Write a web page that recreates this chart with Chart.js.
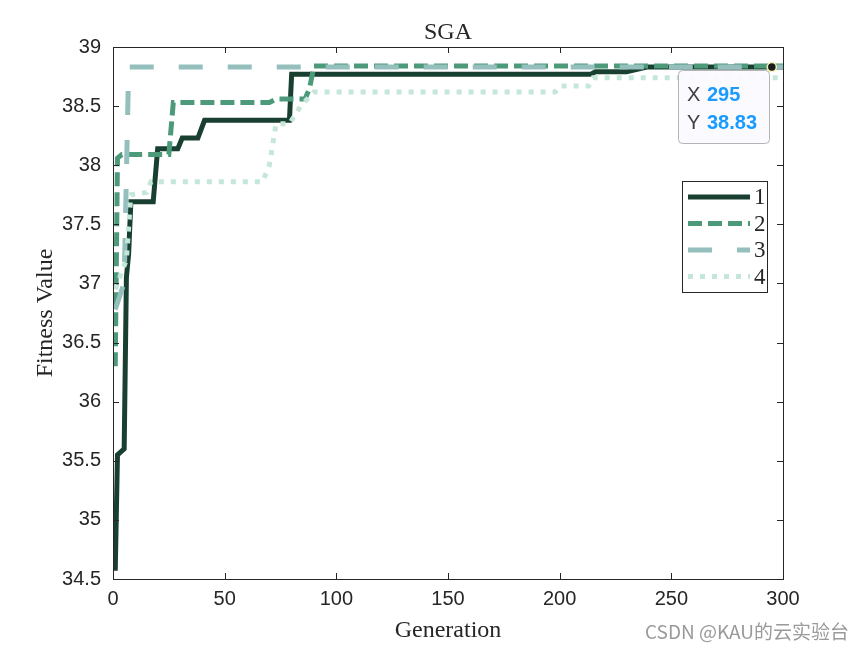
<!DOCTYPE html>
<html>
<head>
<meta charset="utf-8">
<script src="https://cdn.jsdelivr.net/npm/chart.js@4.4.0/dist/chart.umd.min.js"></script>
<style>
  html, body { margin: 0; padding: 0; background: #ffffff; }
  #wrap { position: relative; width: 865px; height: 650px; }
</style>
</head>
<body>
<div id="wrap"><canvas id="sgaChart" width="865" height="650"></canvas></div>
<script>
// values (change points of each curve)
const Gen_1 = [1, 2, 5, 6, 7, 8, 18, 20, 29, 31, 38, 41, 79, 80, 214, 216, 230, 239, 300];
const Fit_1 = [34.57, 35.55, 35.6, 37.05, 37.25, 37.69, 37.69, 38.14, 38.14, 38.23, 38.23, 38.38, 38.38, 38.77, 38.77, 38.79, 38.79, 38.83, 38.83];

const Gen_2 = [1, 2, 4, 25, 27, 70, 73, 86, 88, 90, 300];
const Fit_2 = [36.3, 38.06, 38.09, 38.09, 38.53, 38.53, 38.56, 38.56, 38.65, 38.84, 38.84];

const Gen_3 = [1, 4, 5, 7, 300];
const Fit_3 = [36.78, 36.95, 37.0, 38.83, 38.83];

const Gen_4 = [1, 4, 6, 8, 15, 17, 67, 70, 73, 79, 84, 90, 198, 200, 213, 215, 300];
const Fit_4 = [36.95, 37.1, 37.2, 37.75, 37.77, 37.86, 37.86, 38.0, 38.35, 38.35, 38.5, 38.62, 38.62, 38.67, 38.67, 38.74, 38.74];

const Series_Labels = ['1', '2', '3', '4'];
const X_Ticks = [0, 50, 100, 150, 200, 250, 300];
const Y_Ticks = [34.5, 35, 35.5, 36, 36.5, 37, 37.5, 38, 38.5, 39];

const Tip_Gen = 295;
const Tip_Fit = 38.83;

const Colors = ['#183f30', '#4c9a7a', '#94bfbc', '#c4e7d9'];
const Dashes = [[], [14, 6], [24, 25], [5, 7]];

function To_Points(Gens, Fits) {
    return Gens.map((G, i) => ({ x: G, y: Fits[i] }));
}

const Series = [[Gen_1, Fit_1], [Gen_2, Fit_2], [Gen_3, Fit_3], [Gen_4, Fit_4]];

const Datasets = Series.map(([G, F], i) => ({
    label: Series_Labels[i],
    data: To_Points(G, F),
    borderColor: Colors[i],
    backgroundColor: Colors[i],
    borderWidth: 5,
    borderDash: Dashes[i],
    borderCapStyle: 'butt',
    borderJoinStyle: 'miter',
    pointRadius: 0,
    tension: 0,
    fill: false,
    order: 3 - i
}));

const Text_Color = '#262626';
const Serif = '"Liberation Serif", "DejaVu Serif", serif';
const Sans = '"Liberation Sans", Arial, sans-serif';

const Frame_Plugin = {
    id: 'framePlugin',
    afterDraw(Chart_Obj) {
        const Ctx = Chart_Obj.ctx;
        const A = Chart_Obj.chartArea;
        const X_Scale = Chart_Obj.scales.x;
        const Y_Scale = Chart_Obj.scales.y;
        Ctx.save();

        // box and inward ticks
        Ctx.strokeStyle = Text_Color;
        Ctx.lineWidth = 1;
        Ctx.strokeRect(Math.round(A.left) + 0.5, Math.round(A.top) + 0.5, Math.round(A.right - A.left), Math.round(A.bottom - A.top));
        Ctx.beginPath();
        X_Ticks.forEach(T => {
            const Px = Math.round(X_Scale.getPixelForValue(T)) + 0.5;
            Ctx.moveTo(Px, A.bottom); Ctx.lineTo(Px, A.bottom - 6);
            Ctx.moveTo(Px, A.top); Ctx.lineTo(Px, A.top + 6);
        });
        Y_Ticks.forEach(T => {
            const Py = Math.round(Y_Scale.getPixelForValue(T)) + 0.5;
            Ctx.moveTo(A.left, Py); Ctx.lineTo(A.left + 6, Py);
            Ctx.moveTo(A.right, Py); Ctx.lineTo(A.right - 6, Py);
        });
        Ctx.stroke();

        // titles
        Ctx.fillStyle = Text_Color;
        Ctx.font = '24px ' + Serif;
        Ctx.textAlign = 'center';
        Ctx.textBaseline = 'alphabetic';
        Ctx.fillText('SGA', (A.left + A.right) / 2, 39);
        Ctx.fillText('Generation', (A.left + A.right) / 2, 637);
        Ctx.save();
        Ctx.translate(52, (A.top + A.bottom) / 2);
        Ctx.rotate(-Math.PI / 2);
        Ctx.fillText('Fitness Value', 0, 0);
        Ctx.restore();

        // legend box
        const Lx = 682, Ly = 181, Lw = 85, Lh = 111;
        Ctx.fillStyle = '#ffffff';
        Ctx.fillRect(Lx, Ly, Lw, Lh);
        Ctx.strokeStyle = Text_Color;
        Ctx.strokeRect(Lx + 0.5, Ly + 0.5, Lw, Lh);
        Chart_Obj.data.datasets.forEach((Ds, i) => {
            const Row_Y = Ly + 16 + i * 26.5;
            Ctx.save();
            Ctx.strokeStyle = Ds.borderColor;
            Ctx.lineWidth = 5;
            Ctx.lineCap = 'butt';
            Ctx.setLineDash(Ds.borderDash);
            Ctx.beginPath();
            Ctx.moveTo(688, Row_Y);
            Ctx.lineTo(750, Row_Y);
            Ctx.stroke();
            Ctx.restore();
            Ctx.fillStyle = Text_Color;
            Ctx.font = '23px ' + Serif;
            Ctx.textAlign = 'left';
            Ctx.textBaseline = 'middle';
            Ctx.fillText(Ds.label, 754, Row_Y + 1);
        });

        // data tip
        const Mx = X_Scale.getPixelForValue(Tip_Gen);
        const My = Y_Scale.getPixelForValue(Tip_Fit);
        const Bx = 678, By = 70, Bw = 91, Bh = 73;
        Ctx.beginPath();
        Ctx.roundRect(Bx + 0.5, By + 0.5, Bw, Bh, 4);
        Ctx.fillStyle = 'rgba(250, 250, 255, 0.96)';
        Ctx.fill();
        Ctx.strokeStyle = '#b4b4b4';
        Ctx.lineWidth = 1;
        Ctx.stroke();
        Ctx.textAlign = 'left';
        Ctx.textBaseline = 'middle';
        Ctx.font = '20px ' + Sans;
        Ctx.fillStyle = '#404040';
        Ctx.fillText('X', 687, 95);
        Ctx.fillText('Y', 687, 123);
        Ctx.font = 'bold 20px ' + Sans;
        Ctx.fillStyle = '#1a9bff';
        Ctx.fillText(String(Tip_Gen), 707, 95);
        Ctx.fillText(Tip_Fit.toFixed(2), 707, 123);

        Ctx.beginPath();
        Ctx.arc(Mx, My, 4.5, 0, Math.PI * 2);
        Ctx.fillStyle = '#1a1a1a';
        Ctx.fill();
        Ctx.strokeStyle = '#f6f0b0';
        Ctx.lineWidth = 1.5;
        Ctx.stroke();

        // watermark
        Ctx.font = '19px "Noto Sans CJK SC", ' + Sans;
        Ctx.fillStyle = '#9a9a9a';
        Ctx.textAlign = 'left';
        Ctx.textBaseline = 'alphabetic';
        Ctx.fillText('CSDN @KAU的云实验台', 645, 639);
        Ctx.restore();
    }
};

const Ctx = document.getElementById('sgaChart').getContext('2d');
new Chart(Ctx, {
    type: 'line',
    data: { datasets: Datasets },
    options: {
        responsive: false,
        animation: false,
        layout: { padding: { left: 0, right: 82, top: 47, bottom: 0 } },
        plugins: { legend: { display: false }, tooltip: { enabled: false }, title: { display: false } },
        scales: {
            x: {
                type: 'linear',
                min: 0,
                max: 300,
                afterBuildTicks: S => { S.ticks = X_Ticks.map(V => ({ value: V })); },
                afterFit: S => { S.height = 71; },
                grid: { display: false, drawTicks: false },
                border: { display: false },
                ticks: { color: Text_Color, font: { family: Sans, size: 20 }, padding: 8, maxRotation: 0 }
            },
            y: {
                type: 'linear',
                min: 34.5,
                max: 39,
                afterBuildTicks: S => { S.ticks = Y_Ticks.map(V => ({ value: V })); },
                afterFit: S => { S.width = 113; },
                grid: { display: false, drawTicks: false },
                border: { display: false },
                ticks: { color: Text_Color, font: { family: Sans, size: 20 }, padding: 12, callback: V => String(V) }
            }
        }
    },
    plugins: [Frame_Plugin]
});
</script>
</body>
</html>
